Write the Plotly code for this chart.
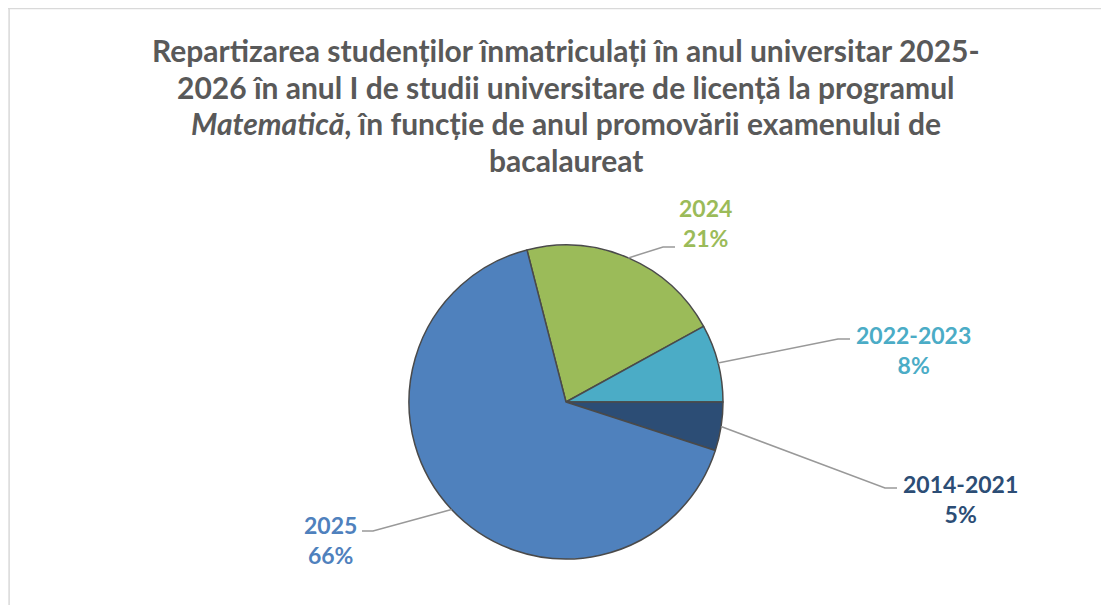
import math
import plotly.graph_objects as go

labels = ["2024", "2022-2023", "2014-2021", "2025"]
values = [21, 8, 5, 66]
colors = ["#9BBB59", "#4BACC6", "#2C4D75", "#4F81BD"]
title_lines = [
    "Repartizarea studenților înmatriculați în anul universitar 2025-",
    "2026 în anul I de studii universitare de licență la programul",
    "<i>Matematică</i>, în funcție de anul promovării examenului de",
    "bacalaureat",
]

OFF = 8                      # page body margin
W, H = 1109 - OFF, 605 - OFF
CX, CY, R = 566, 402, 157    # screen pixel coordinates
ROT = -14.4
FONT = "Lato"

def px(x):
    return (x - OFF) / W

def py(y):
    return 1 - (y - OFF) / H

fig = go.Figure(go.Pie(
    labels=labels, values=values, sort=False, direction="clockwise",
    rotation=ROT, textinfo="none", hoverinfo="label+percent",
    marker=dict(colors=colors, line=dict(color="#4a4a4a", width=1.5)),
    domain=dict(x=[px(CX - R), px(CX + R)], y=[py(CY + R), py(CY - R)]),
    showlegend=False,
))

label_layout = {
    "2024": dict(elbow=(663, 247), end=(675, 247), text=(705, 223)),
    "2022-2023": dict(elbow=(838, 339), end=(850, 339), text=(913, 350)),
    "2014-2021": dict(elbow=(885, 488), end=(897, 488), text=(960, 499)),
    "2025": dict(elbow=(373, 531), end=(362, 531), text=(330, 540)),
}

total = sum(values)
start = ROT
shapes = []
annotations = []
for lab, val, col in zip(labels, values, colors):
    span = 360 * val / total
    mid = math.radians(start + span / 2)
    start += span
    ex = CX + R * math.sin(mid)
    ey = CY - R * math.cos(mid)
    L = label_layout[lab]
    path = "M {} {} L {} {} L {} {}".format(
        px(ex), py(ey), px(L["elbow"][0]), py(L["elbow"][1]), px(L["end"][0]), py(L["end"][1]))
    shapes.append(dict(type="path", xref="paper", yref="paper", path=path,
                       line=dict(color="#999999", width=1.5)))
    pct = round(100 * val / total)
    annotations.append(dict(
        x=px(L["text"][0]), y=py(L["text"][1]), xref="paper", yref="paper",
        text="<b>{}</b><br><b>{}%</b>".format(lab, pct), showarrow=False,
        font=dict(family=FONT, size=23, color=col), align="center",
        xanchor="center", yanchor="middle",
    ))

title_y = [50, 87, 123, 160]
for t, ty in zip(title_lines, title_y):
    annotations.append(dict(
        x=px(566), y=py(ty), xref="paper", yref="paper", text="<b>" + t + "</b>",
        showarrow=False, font=dict(family=FONT, size=30, color="#595959"),
        xanchor="center", yanchor="middle",
    ))

# chart area border (left and top edges visible)
shapes.append(dict(type="line", xref="paper", yref="paper", x0=0.001, x1=0.001, y0=0, y1=1,
                   line=dict(color="#d9d9d9", width=1.5)))
shapes.append(dict(type="line", xref="paper", yref="paper", x0=0, x1=1, y0=0.999, y1=0.999,
                   line=dict(color="#d9d9d9", width=1.5)))

fig.update_layout(
    width=W, height=H, autosize=False,
    margin=dict(l=0, r=0, t=0, b=0),
    paper_bgcolor="white", plot_bgcolor="white",
    shapes=shapes, annotations=annotations,
)

fig.write_html("out.html")
